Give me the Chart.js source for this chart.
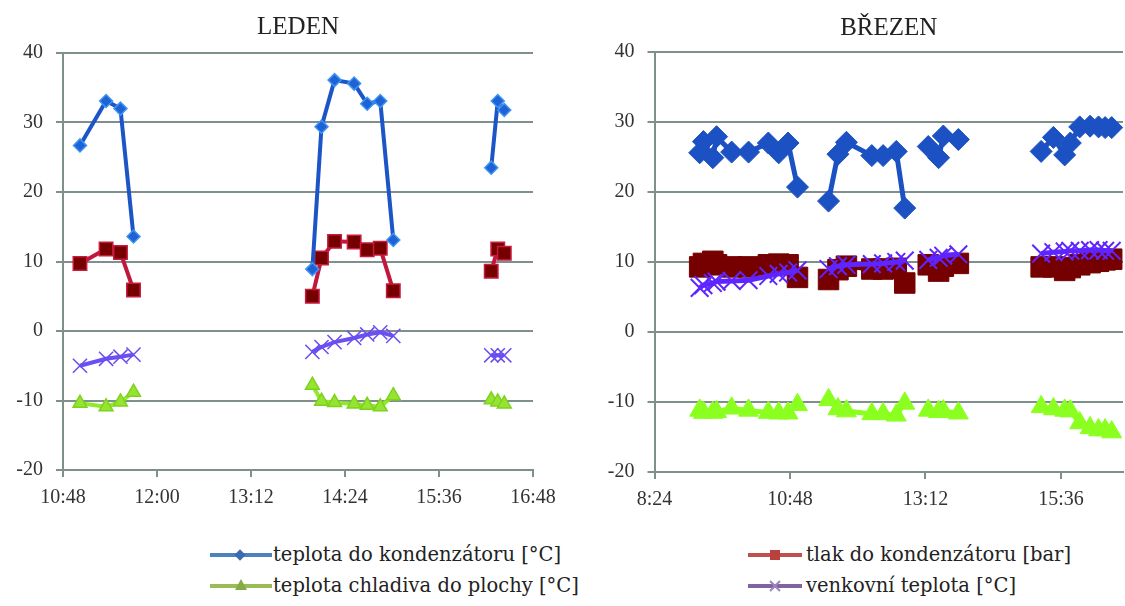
<!DOCTYPE html>
<html>
<head>
<meta charset="utf-8">
<script src="https://cdn.jsdelivr.net/npm/chart.js@4.4.1/dist/chart.umd.min.js"></script>
<style>
  body { margin: 0; width: 1125px; height: 606px; background: #fff; position: relative; overflow: hidden; }
  canvas { position: absolute; top: 0; }
  #leden { left: 0; }
  #brezen { left: 580px; }
  .key { position: absolute; height: 24px; line-height: 24px; font: 19.5px "DejaVu Serif", serif; color: #222; white-space: nowrap; }
  .key i { position: absolute; display: block; }
  .key .ln { left: 0; top: 10px; height: 4px; }
  .key span { position: absolute; top: 0; }
  .dia { width: 8px; height: 8px; top: 8px; transform: rotate(45deg); }
  .sq { width: 10px; height: 10px; top: 7px; }
  .tri { width: 0; height: 0; top: 5px; border-left: 6px solid transparent; border-right: 6px solid transparent; border-bottom: 11px solid #86aa45; }
  .xa, .xb { width: 14px; height: 2px; top: 11px; }
  .xa { transform: rotate(45deg); }
  .xb { transform: rotate(-45deg); }
</style>
</head>
<body>
<canvas id="leden" width="575" height="520"></canvas>
<canvas id="brezen" width="545" height="522"></canvas>

<div class="key" style="left:210px;top:543px">
  <i class="ln" style="width:62px;background:#4f81bd"></i><i class="dia" style="left:26px;background:#3b6cb0"></i>
  <span style="left:63px">teplota do kondenzátoru [°C]</span>
</div>
<div class="key" style="left:210px;top:574px">
  <i class="ln" style="width:62px;background:#9bbb59"></i><i class="tri" style="left:25px"></i>
  <span style="left:63px">teplota chladiva do plochy [°C]</span>
</div>
<div class="key" style="left:748px;top:543px">
  <i class="ln" style="width:54px;background:#c0504d"></i><i class="sq" style="left:22px;background:#b8403d"></i>
  <span style="left:58px">tlak do kondenzátoru [bar]</span>
</div>
<div class="key" style="left:748px;top:574px">
  <i class="ln" style="width:54px;background:#8064a2"></i><i class="xa" style="left:20px;background:#9a85c0"></i><i class="xb" style="left:20px;background:#9a85c0"></i>
  <span style="left:58px">venkovní teplota [°C]</span>
</div>

<script>
// LEDEN - '' marks a break in the measurement
var ledenTimes = ['11:01', '11:21', '11:32', '11:42', '',
  '13:59', '14:06', '14:16', '14:31', '14:41', '14:51', '15:01', '',
  '16:16', '16:21', '16:26'];
var ledenTeplota = [26.7, 33.1, 32.0, 13.6, null, 8.9, 29.4, 36.1, 35.6, 32.7, 33.1, 13.1, null, 23.5, 33.1, 31.8];
var ledenTlak = [9.7, 11.8, 11.3, 5.9, null, 5.0, 10.5, 12.9, 12.8, 11.7, 11.9, 5.8, null, 8.6, 11.8, 11.2];
var ledenChladivo = [-10.4, -10.9, -10.2, -8.8, null, -7.8, -10.1, -10.3, -10.5, -10.7, -10.9, -9.3, null, -9.9, -10.2, -10.5];
var ledenVenku = [-5.0, -4.0, -3.7, -3.4, null, -3.0, -2.3, -1.6, -1.0, -0.5, -0.2, -0.7, null, -3.5, -3.5, -3.5];
var ledenTicks = ['10:48', '12:00', '13:12', '14:24', '15:36', '16:48'];

// BŘEZEN
var brezenTimes = ['9:12', '9:16', '9:26', '9:30', '9:46', '10:04', '10:25', '10:36', '10:46', '10:56', '',
  '11:29', '11:39', '11:48', '12:15', '12:27', '12:41', '12:50', '',
  '13:15', '13:26', '13:31', '13:47', '',
  '15:15', '15:28', '15:40', '15:46', '15:56', '16:07', '16:16', '16:23', '16:30'];
var brezenTeplota = [25.6, 27.2, 24.9, 27.9, 25.7, 25.7, 27.0, 25.6, 27.0, 20.7, null,
  18.7, 25.4, 27.1, 25.2, 25.2, 25.8, 17.7, null,
  26.5, 24.9, 28.0, 27.5, null,
  25.8, 27.8, 25.3, 27.0, 29.3, 29.4, 29.3, 29.2, 29.2];
var brezenTlak = [9.3, 9.8, 10.1, 9.6, 9.3, 9.3, 9.6, 9.7, 9.6, 7.8, null,
  7.5, 8.9, 9.4, 9.0, 9.0, 9.1, 7.0, null,
  9.6, 8.7, 9.4, 9.8, null,
  9.3, 9.3, 8.8, 9.2, 9.6, 9.9, 10.1, 10.3, 10.4];
var brezenChladivo = [-11.2, -11.5, -11.5, -11.4, -10.9, -11.2, -11.5, -11.6, -11.6, -10.4, null,
  -9.7, -11.0, -11.3, -11.7, -11.7, -11.9, -10.2, null,
  -11.2, -11.4, -11.3, -11.6, null,
  -10.7, -11.0, -11.2, -11.3, -13.0, -13.7, -14.0, -14.0, -14.3];
var brezenVenku = [6.3, 6.7, 7.0, 7.2, 7.3, 7.4, 8.0, 8.3, 8.5, 8.8, null,
  9.0, 9.4, 9.6, 9.7, 9.8, 10.0, 10.2, null,
  10.3, 10.6, 10.9, 11.1, null,
  11.2, 11.4, 11.5, 11.6, 11.6, 11.7, 11.7, 11.6, 11.6];
var brezenTicks = ['8:24', '10:48', '13:12', '15:36'];

var GRID = '#7f8f8e';
var TICK_FONT = { family: 'Liberation Serif', size: 20 };

function toMin(s) {
  var p = s.split(':');
  return parseInt(p[0]) * 60 + parseInt(p[1]);
}

function timeLabel(v) {
  var m = Math.round(v) % 60;
  return Math.floor(Math.round(v) / 60) + ':' + (m < 10 ? '0' : '') + m;
}

function points(times, vals) {
  var last = 0;
  return times.map(function (t, i) {
    if (t) last = toMin(t);
    return { x: last, y: vals[i] };
  });
}

function series(times, vals, style) {
  var ds = { data: points(times, vals), tension: 0, clip: false, spanGaps: false };
  return Object.assign(ds, style);
}

function makeChart(id, cfg) {
  new Chart(document.getElementById(id), {
    type: 'line',
    data: { datasets: cfg.datasets },
    options: {
      responsive: false,
      animation: false,
      layout: { padding: cfg.padding, autoPadding: false },
      plugins: {
        legend: { display: false },
        tooltip: { enabled: false },
        title: {
          display: true,
          text: cfg.title,
          fullSize: false,
          color: '#222',
          font: { family: 'Liberation Serif', size: 25, weight: 'normal' },
          padding: cfg.titlePadding
        }
      },
      scales: {
        x: {
          type: 'linear',
          min: toMin(cfg.ticks[0]),
          max: cfg.max,
          afterBuildTicks: function (s) { s.ticks = cfg.ticks.map(function (t) { return { value: toMin(t) }; }); },
          afterFit: function (s) {
            s.height = 50;
            s.paddingLeft = 0;
            s.paddingRight = 0;
          },
          grid: { drawOnChartArea: false, drawTicks: true, tickLength: 7, color: GRID, lineWidth: 2 },
          border: { display: true, color: GRID, width: 2 },
          ticks: { autoSkip: false, maxRotation: 0, font: TICK_FONT, color: '#333', padding: 9, callback: timeLabel }
        },
        y: {
          min: -20,
          max: 40,
          afterFit: function (s) { s.width = cfg.yWidth; },
          grid: { color: GRID, lineWidth: 2, tickLength: 7 },
          border: { display: true, color: GRID, width: 2 },
          ticks: { stepSize: 10, font: TICK_FONT, color: '#333', padding: 13 }
        }
      }
    }
  });
}

makeChart('leden', {
  title: 'LEDEN',
  titlePadding: { top: 12, bottom: 11 },
  padding: { top: 0, right: 42, bottom: 0, left: 0 },
  yWidth: 63,
  ticks: ledenTicks,
  max: toMin('16:48'),
  datasets: [
    series(ledenTimes, ledenTeplota, { order: 0, borderColor: '#1c55c6', borderWidth: 4,
      pointStyle: 'rectRot', pointRadius: 6.5, pointBackgroundColor: '#1f62d6', pointBorderColor: '#3d95f2', pointBorderWidth: 1.5 }),
    series(ledenTimes, ledenTlak, { order: 2, borderColor: '#c2173d', borderWidth: 4,
      pointStyle: 'rect', pointRadius: 9.5, pointBackgroundColor: '#760000', pointBorderColor: '#c8193f', pointBorderWidth: 1.5 }),
    series(ledenTimes, ledenChladivo, { order: 3, borderColor: '#8fea2c', borderWidth: 4,
      pointStyle: 'triangle', pointRadius: 8, pointBackgroundColor: '#95e432', pointBorderColor: '#7ed21c', pointBorderWidth: 1.5 }),
    series(ledenTimes, ledenVenku, { order: 1, borderColor: '#6c4ff2', borderWidth: 4,
      pointStyle: 'crossRot', pointRadius: 10, pointBorderColor: '#6a4cf2', pointBorderWidth: 1.5 })
  ]
});

makeChart('brezen', {
  title: 'BŘEZEN',
  titlePadding: { top: 13, bottom: 9 },
  padding: { top: 0, right: 2, bottom: 0, left: 0 },
  yWidth: 74.5,
  ticks: brezenTicks,
  max: 1002,
  datasets: [
    series(brezenTimes, brezenTeplota, { order: 0, borderColor: '#1b51c2', borderWidth: 5,
      pointStyle: 'rectRot', pointRadius: 11, pointBackgroundColor: '#1b51c2', pointBorderColor: '#1b51c2', pointBorderWidth: 1 }),
    series(brezenTimes, brezenTlak, { order: 2, borderColor: '#760000', borderWidth: 5,
      pointStyle: 'rect', pointRadius: 14.5, pointBackgroundColor: '#760000', pointBorderColor: '#760000', pointBorderWidth: 1 }),
    series(brezenTimes, brezenChladivo, { order: 3, borderColor: '#8bff1f', borderWidth: 5,
      pointStyle: 'triangle', pointRadius: 11.5, pointBackgroundColor: '#8bff1f', pointBorderColor: '#8bff1f', pointBorderWidth: 1 }),
    series(brezenTimes, brezenVenku, { order: 1, borderColor: '#5f25ff', borderWidth: 5,
      pointStyle: 'crossRot', pointRadius: 12.5, pointBorderColor: '#5f25ff', pointBorderWidth: 2 })
  ]
});
</script>
</body>
</html>
